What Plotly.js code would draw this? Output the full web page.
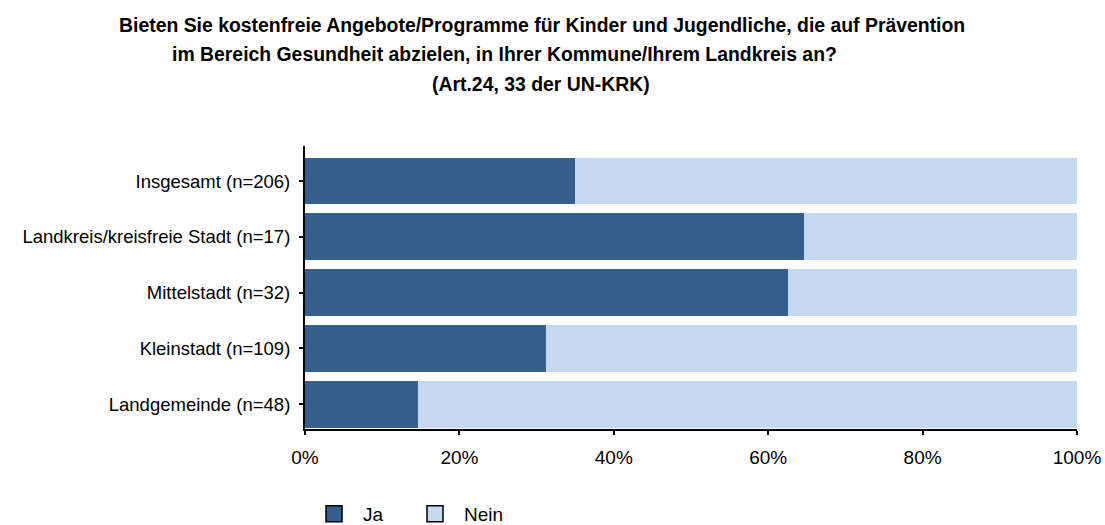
<!DOCTYPE html>
<html>
<head>
<meta charset="utf-8">
<script src="https://cdn.plot.ly/plotly-3.0.1.min.js"></script>
<style>html,body{margin:0;padding:0;background:#fff;}#chart{width:1105px;height:525px;}</style>
</head>
<body>
<div id="chart"></div>
<script>
var categories = ["Insgesamt (n=206)", "Landkreis/kreisfreie Stadt (n=17)", "Mittelstadt (n=32)", "Kleinstadt (n=109)", "Landgemeinde (n=48)"];
var jaValues = [35.0, 64.7, 62.5, 31.2, 14.6];
var neinValues = [65.0, 35.3, 37.5, 68.8, 85.4];
var seriesNames = ["Ja", "Nein"];
var seriesColors = ["#355f8f", "#c6d9f0"];
var titleLines = [
  "Bieten Sie kostenfreie Angebote/Programme für Kinder und Jugendliche, die auf Prävention",
  "im Bereich Gesundheit abzielen, in Ihrer Kommune/Ihrem Landkreis an?",
  "(Art.24, 33 der UN-KRK)"
];
var xTickVals = [0, 20, 40, 60, 80, 100];
var xTickText = ["0%", "20%", "40%", "60%", "80%", "100%"];

var FONT = "Liberation Sans, Arial, sans-serif";

var traces = [
  {type: "bar", orientation: "h", y: categories, x: jaValues, name: seriesNames[0],
   marker: {color: seriesColors[0]}, showlegend: false, hoverinfo: "x+y"},
  {type: "bar", orientation: "h", y: categories, x: neinValues, name: seriesNames[1],
   marker: {color: seriesColors[1]}, showlegend: false, hoverinfo: "x+y"},
  {type: "scatter", mode: "markers", y: [null], x: [null], name: seriesNames[0],
   marker: {symbol: "square", size: 16, color: seriesColors[0], line: {color: "#000", width: 1.5}}, showlegend: true},
  {type: "scatter", mode: "markers", y: [null], x: [null], name: seriesNames[1],
   marker: {symbol: "square", size: 16, color: seriesColors[1], line: {color: "#000", width: 1.5}}, showlegend: true}
];

var titleX = [0.3076, 0.2578, 0.3063];
var titleY = [1.4286, 1.326, 1.2205];
var annotations = titleLines.map(function (t, i) {
  return {text: "<b>" + t + "</b>", xref: "paper", yref: "paper", x: titleX[i], y: titleY[i],
    xanchor: "center", yanchor: "middle", showarrow: false,
    font: {family: FONT, size: 19.4, color: "#000"}};
});

var layout = {
  width: 1105, height: 525,
  margin: {l: 305, r: 28, t: 145.5, b: 96, pad: 0, autoexpand: false},
  paper_bgcolor: "#fff", plot_bgcolor: "#fff",
  barmode: "stack", bargap: 0.16,
  font: {family: FONT, size: 19, color: "#000"},
  xaxis: {range: [0, 100], tickvals: xTickVals, ticktext: xTickText, showgrid: false, zeroline: false,
    showline: true, linecolor: "#000", linewidth: 2, ticks: "outside", ticklen: 4, tickwidth: 2, tickcolor: "#000",
    ticklabelstandoff: 6, tickfont: {family: FONT, size: 19, color: "#000"}, fixedrange: true, automargin: false},
  yaxis: {type: "category", range: [4.444, -0.628], showgrid: false, zeroline: false,
    showline: true, linecolor: "#000", linewidth: 2, ticks: "outside", ticklen: 4, tickwidth: 2, tickcolor: "#000",
    ticklabelstandoff: 5, tickfont: {family: FONT, size: 18.5, color: "#000"}, fixedrange: true, automargin: false},
  legend: {orientation: "h", traceorder: "normal", x: 0.0, y: -0.233, xanchor: "left", yanchor: "top",
    entrywidth: 38, itemwidth: 48,
    font: {family: FONT, size: 19, color: "#000"}, bgcolor: "rgba(0,0,0,0)"},
  annotations: annotations
};

Plotly.newPlot("chart", traces, layout, {displayModeBar: false, staticPlot: true});
</script>
</body>
</html>
